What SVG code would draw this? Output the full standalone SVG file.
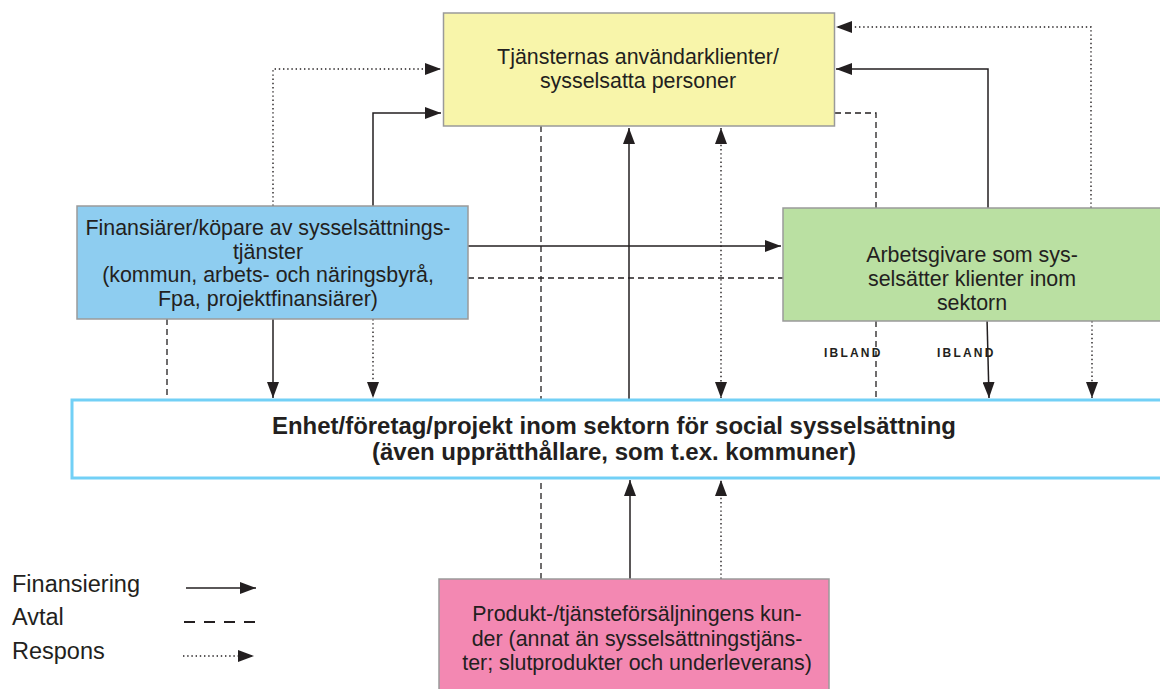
<svg xmlns="http://www.w3.org/2000/svg" width="1160" height="689" viewBox="0 0 1160 689">
<defs>
<marker id="ah" viewBox="0 0 16 12" refX="16" refY="6" markerWidth="16" markerHeight="12" markerUnits="userSpaceOnUse" orient="auto-start-reverse">
<path d="M0,0 L16,6 L0,12 z" fill="#231f20"/>
</marker>
<style>
.box{stroke:#9a9a9a;stroke-width:1.5}
.t{font-family:"Liberation Sans",Arial,sans-serif;font-size:21.4px;fill:#231f20;text-anchor:middle}
.tb{font-family:"Liberation Sans",Arial,sans-serif;font-size:23.5px;font-weight:bold;fill:#231f20;text-anchor:middle}
.lg{font-family:"Liberation Sans",Arial,sans-serif;font-size:23.5px;fill:#231f20}
.ib{font-family:"Liberation Sans",Arial,sans-serif;font-size:12px;font-weight:bold;fill:#231f20;letter-spacing:2.2px}
.s{fill:none;stroke:#231f20;stroke-width:1.5}
.d{fill:none;stroke:#231f20;stroke-width:1.3;stroke-dasharray:6,4}
.o{fill:none;stroke:#231f20;stroke-width:1.4;stroke-dasharray:1.4,2.8}
</style>
</defs>
<rect width="1160" height="689" fill="#ffffff"/>

<g id="connectors">
<polyline class="o" points="273,206 273,69 441,69" marker-end="url(#ah)"/>
<polyline class="s" points="373,206 373,113 441,113" marker-end="url(#ah)"/>
<polyline class="o" points="1091,208 1091,27 836,27" marker-end="url(#ah)"/>
<polyline class="s" points="988,208 988,69 836,69" marker-end="url(#ah)"/>
<polyline class="d" points="835,113 876,113 876,208"/>
<line class="d" x1="541" y1="126" x2="541" y2="400"/>
<line class="s" x1="629" y1="399" x2="629" y2="128" marker-end="url(#ah)"/>
<line class="o" x1="721" y1="128" x2="721" y2="398" marker-start="url(#ah)" marker-end="url(#ah)"/>
<line class="s" x1="468" y1="246" x2="781" y2="246" marker-end="url(#ah)"/>
<line class="d" x1="468" y1="278" x2="783" y2="278"/>
<line class="d" x1="167" y1="319" x2="167" y2="400"/>
<line class="s" x1="273" y1="319" x2="273" y2="398" marker-end="url(#ah)"/>
<line class="o" x1="373" y1="319" x2="373" y2="398" marker-end="url(#ah)"/>
<line class="d" x1="876" y1="321" x2="876" y2="400"/>
<line class="s" x1="987" y1="318" x2="989" y2="398" marker-end="url(#ah)"/>
<line class="o" x1="1092" y1="321" x2="1092" y2="398" marker-end="url(#ah)"/>
<line class="d" x1="541" y1="579" x2="541" y2="478"/>
<line class="s" x1="630" y1="579" x2="630" y2="480" marker-end="url(#ah)"/>
<line class="o" x1="721" y1="579" x2="721" y2="480" marker-end="url(#ah)"/>
</g>

<g id="node-users">
<rect class="box" x="443.5" y="13" width="391" height="113" fill="#f8f5aa"/>
<text class="t" x="638" y="63.5">Tjänsternas användarklienter/</text>
<text class="t" x="638" y="88">sysselsatta personer</text>
</g>

<g id="node-financiers">
<rect class="box" x="77" y="206" width="391" height="113" fill="#8ecdf0"/>
<text class="t" x="268" y="234.5">Finansiärer/köpare av sysselsättnings-</text>
<text class="t" x="268" y="258.5">tjänster</text>
<text class="t" x="268" y="282">(kommun, arbets- och näringsbyrå,</text>
<text class="t" x="268" y="305.5">Fpa, projektfinansiärer)</text>
</g>

<g id="node-employers">
<rect class="box" x="783" y="208" width="400" height="113" fill="#bae0a2"/>
<text class="t" x="972" y="262">Arbetsgivare som sys-</text>
<text class="t" x="972" y="286">selsätter klienter inom</text>
<text class="t" x="972" y="310">sektorn</text>
</g>

<g id="labels-ibland">
<text class="ib" x="824" y="356.5">IBLAND</text>
<text class="ib" x="937" y="356.5">IBLAND</text>
</g>

<g id="node-enterprise">
<rect x="72" y="400" width="1100" height="78" fill="#ffffff" stroke="#72d0f6" stroke-width="3"/>
<text class="tb" x="614" y="434" textLength="684" lengthAdjust="spacingAndGlyphs">Enhet/företag/projekt inom sektorn för social sysselsättning</text>
<text class="tb" x="614" y="460" textLength="484" lengthAdjust="spacingAndGlyphs">(även upprätthållare, som t.ex. kommuner)</text>
</g>

<g id="node-customers">
<rect class="box" x="439" y="579" width="390" height="120" fill="#f388b2"/>
<text class="t" x="637" y="621">Produkt-/tjänsteförsäljningens kun-</text>
<text class="t" x="637" y="646">der (annat än sysselsättningstjäns-</text>
<text class="t" x="637" y="670">ter; slutprodukter och underleverans)</text>
</g>

<g id="legend">
<text class="lg" x="12" y="591.5">Finansiering</text>
<text class="lg" x="12" y="625">Avtal</text>
<text class="lg" x="12" y="659">Respons</text>
<line class="s" x1="186" y1="588" x2="256" y2="588" marker-end="url(#ah)"/>
<line x1="184" y1="622" x2="256" y2="622" stroke="#231f20" stroke-width="2.2" stroke-dasharray="11,9"/>
<line class="o" x1="183" y1="656" x2="254" y2="656" marker-end="url(#ah)"/>
</g>
</svg>
